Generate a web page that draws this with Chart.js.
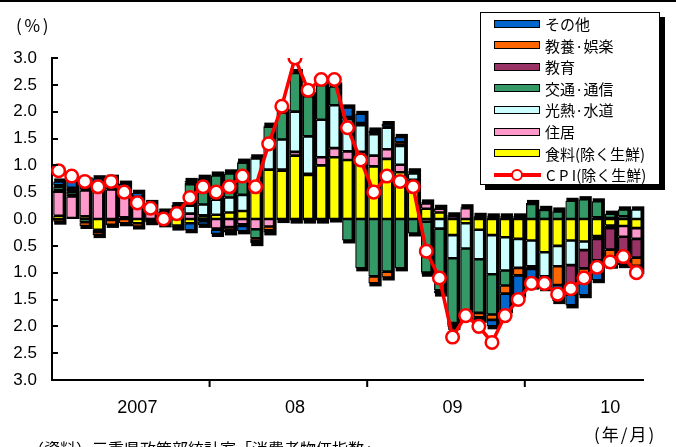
<!DOCTYPE html>
<html>
<head>
<meta charset="utf-8">
<script src="https://cdn.jsdelivr.net/npm/chart.js@4.4.1/dist/chart.umd.min.js"></script>
<style>
  html, body { margin: 0; padding: 0; background: #fff; }
  #wrap { position: relative; width: 676px; height: 447px; overflow: hidden; background: #fff; }
  #topline { position: absolute; left: 0; top: 0; width: 676px; height: 2px; background: #000; }
  canvas { position: absolute; left: 0; top: 0; }
  .lbl { position: absolute; color: #000; white-space: nowrap; font-family: "Noto Sans CJK JP", sans-serif; }
  #unit { left: 16px; top: 12px; font-size: 17px; letter-spacing: 2px; }
  #xunit { left: 594px; top: 421px; font-size: 17px; letter-spacing: 2px; }
  #source { left: 28px; top: 436px; font-size: 16px; }
  #legend { position: absolute; left: 480px; top: 12px; width: 178px; height: 171px;
            border: 1.5px solid #000; background: #fff; box-shadow: 5px 5px 0 #000; }
  .item { position: absolute; left: 13px; height: 21px; display: flex; align-items: center; white-space: nowrap;
          font-family: "Noto Sans CJK JP", sans-serif; font-size: 15px; color: #000; }
  .sw { width: 44px; height: 6px; border: 1.5px solid #000; margin-right: 5px; flex: none; }
  .ln { position: relative; width: 47px; height: 10px; margin-right: 5px; flex: none; }
  .ln i { position: absolute; left: 0; top: 3.5px; width: 47px; height: 3.5px; background: #f00; }
  .ln b { position: absolute; left: 17px; top: -1px; width: 8px; height: 8px; border: 2.5px solid #f00;
          border-radius: 50%; background: #fff; }
</style>
</head>
<body>
<div id="wrap">
  <canvas id="c" width="676" height="447"></canvas>
  <div id="topline"></div>
  <div class="lbl" id="unit">(％)</div>
  <div class="lbl" id="xunit">(年/月)</div>
  <div class="lbl" id="source">（資料）三重県政策部統計室「消費者物価指数」</div>
  <div id="legend"></div>
</div>
<script>
// Months, January 2007 to September 2010
const months = [
  '07/1','07/2','07/3','07/4','07/5','07/6','07/7','07/8','07/9','07/10','07/11','07/12',
  '08/1','08/2','08/3','08/4','08/5','08/6','08/7','08/8','08/9','08/10','08/11','08/12',
  '09/1','09/2','09/3','09/4','09/5','09/6','09/7','09/8','09/9','09/10','09/11','09/12',
  '10/1','10/2','10/3','10/4','10/5','10/6','10/7','10/8','10/9'
];
// Year captions shown under the July of each year
const yearLabels = { '07/7': '2007', '08/7': '08', '09/7': '09', '10/7': '10' };

// Contributions to the year-on-year change (percentage points)
const food = [0.06,0.02,0.05,-0.20,-0.02,0.03,-0.08,-0.02,-0.03,-0.12,-0.08,0.05,
  0.08,0.12,0.15,0.68,0.92,0.90,1.18,0.82,1.00,1.15,1.10,1.10,
  0.98,1.12,0.87,0.68,0.19,0.12,-0.30,-0.08,-0.20,-0.30,-0.34,-0.37,
  -0.40,-0.62,-0.50,-0.40,-0.42,-0.32,-0.12,-0.13,-0.17];
const housing = [0.45,0.40,0.48,0.52,0.55,0.45,0.30,0.15,0.02,0.05,0.10,0.02,
  -0.18,-0.15,-0.10,-0.19,-0.14,0.02,0.07,0.02,0.15,0.17,0.16,0.15,
  0.20,0.18,0.14,0.05,0.10,0.07,0.05,0.20,0.04,0.03,0.03,0.00,
  0.00,0.00,0.00,0.00,0.00,0.03,0.02,-0.20,-0.20];
const utilities = [0.03,0.03,0.02,0.03,0.03,0.02,0.02,0.02,0.03,0.04,0.15,0.20,
  0.28,0.28,0.30,0.45,0.55,0.56,0.75,0.70,0.70,0.80,0.60,0.50,
  0.40,0.40,0.35,0.12,-0.05,-0.18,-0.43,-0.47,-0.55,-0.73,-0.62,-0.54,
  -0.48,-0.45,-0.38,-0.46,-0.16,-0.05,-0.05,0.05,0.18];
const transport = [0.06,0.06,-0.06,-0.04,0.03,0.03,0.04,0.04,0.06,0.12,0.40,0.48,
  0.45,0.45,0.60,-0.17,0.25,0.50,0.72,0.75,0.65,0.35,-0.40,-0.92,
  -1.07,-0.98,-0.92,-0.27,-0.95,-1.15,-1.21,-1.21,-1.00,-0.75,-0.28,0.03,
  0.28,0.17,0.14,0.34,0.37,0.30,0.08,0.13,0.00];
const education = [0.03,0.05,0.05,0.06,0.04,0.05,0.05,0.04,0.03,0.03,0.03,0.02,
  0.02,0.02,0.02,0.02,0.02,0.02,0.02,0.02,0.02,0.02,0.02,0.02,
  0.02,0.02,0.02,0.02,0.02,0.02,0.02,0.02,0.02,0.02,0.02,0.02,
  0.02,0.02,0.02,-0.40,-0.34,-0.40,-0.40,-0.38,-0.35];
const recreation = [-0.05,0.02,-0.07,-0.06,-0.09,-0.08,-0.06,-0.04,-0.05,-0.04,0.03,-0.04,
  -0.02,-0.05,-0.03,-0.05,-0.07,-0.02,-0.03,-0.03,-0.03,-0.01,0.02,0.02,
  -0.13,-0.11,0.05,0.02,-0.02,-0.03,-0.05,-0.05,-0.08,-0.10,-0.15,-0.14,
  -0.05,-0.10,-0.35,-0.15,-0.20,-0.15,-0.15,-0.10,-0.15];
const other = [0.07,0.15,0.12,0.15,0.12,0.08,0.08,0.05,-0.02,0.02,-0.13,-0.07,
  -0.08,-0.05,-0.10,-0.04,-0.04,0.00,0.00,0.00,0.00,0.00,0.18,0.17,
  0.05,0.05,0.10,0.00,0.00,-0.03,-0.02,-0.02,-0.05,-0.12,-0.31,-0.36,
  -0.33,-0.12,-0.30,-0.20,-0.30,-0.22,-0.15,-0.05,-0.10];
// Core CPI (excluding fresh food), year-on-year %
const cpi = [0.9,0.8,0.7,0.6,0.7,0.5,0.3,0.2,0.0,0.1,0.4,0.6,
  0.5,0.6,0.8,0.6,1.4,2.1,3.0,2.4,2.6,2.6,1.7,1.1,
  0.5,0.8,0.7,0.6,-0.6,-1.1,-2.2,-1.8,-2.0,-2.3,-1.8,-1.5,
  -1.2,-1.2,-1.4,-1.3,-1.1,-0.9,-0.8,-0.7,-1.0];

const yTicks = [-3,-2.5,-2,-1.5,-1,-0.5,0,0.5,1,1.5,2,2.5,3];

const barSeries = [
  { label: '食料(除く生鮮)', data: food, color: '#FFFF00' },
  { label: '住居', data: housing, color: '#FF99CC' },
  { label: '光熱·水道', data: utilities, color: '#CCFFFF' },
  { label: '交通·通信', data: transport, color: '#339966' },
  { label: '教育', data: education, color: '#993366' },
  { label: '教養·娯楽', data: recreation, color: '#FF6600' },
  { label: 'その他', data: other, color: '#0066CC' }
];
const cpiLabel = 'C P I(除く生鮮)';

const datasets = barSeries.map(s => ({
  type: 'bar', label: s.label, data: s.data, backgroundColor: s.color,
  borderColor: '#000', borderWidth: 1.3, borderSkipped: false,
  barPercentage: 0.82, categoryPercentage: 1.0, stack: 'items', order: 1
}));
datasets.push({
  type: 'line', label: cpiLabel, data: cpi, stack: 'cpi', order: 0,
  borderColor: '#FF0000', borderWidth: 3.5, tension: 0,
  pointRadius: 6.3, pointBorderWidth: 2.5, pointBackgroundColor: '#FFFFFF',
  pointBorderColor: '#FF0000'
});

// Black drop shadow behind each stacked column
const barShadow = {
  id: 'barShadow',
  beforeDatasetsDraw(chart) {
    const ctx = chart.ctx;
    const metas = chart.getSortedVisibleDatasetMetas().filter(m => m.type === 'bar');
    const zero = chart.scales.y.getPixelForValue(0);
    ctx.save();
    ctx.fillStyle = '#000';
    for (let i = 0; i < chart.data.labels.length; i++) {
      let top = zero, bottom = zero, left = null, width = 0;
      metas.forEach(m => {
        const el = m.data[i];
        if (!el) return;
        const p = el.getProps(['x', 'y', 'base', 'width'], true);
        top = Math.min(top, p.y, p.base);
        bottom = Math.max(bottom, p.y, p.base);
        left = p.x - p.width / 2;
        width = p.width;
      });
      if (left === null) continue;
      if (top < zero - 0.5) ctx.fillRect(left + 1, top - 3, width + 1.5, zero - top + 3);
      if (bottom > zero + 0.5) ctx.fillRect(left + 1, zero, width + 1.5, bottom - zero + 3);
    }
    ctx.restore();
  }
};

// Inward tick marks on the value axis, year separators on the time axis
const axisMarks = {
  id: 'axisMarks',
  afterDraw(chart) {
    const ctx = chart.ctx, a = chart.chartArea;
    const xs = chart.scales.x, ys = chart.scales.y;
    ctx.save();
    ctx.strokeStyle = '#000';
    ctx.lineWidth = 2;
    ctx.beginPath();
    yTicks.forEach(v => {
      const y = Math.round(ys.getPixelForValue(v));
      ctx.moveTo(a.left, y); ctx.lineTo(a.left + 6, y);
    });
    months.forEach((m, i) => {
      if (i > 0 && m.endsWith('/1')) {
        const x = (xs.getPixelForValue(i - 1) + xs.getPixelForValue(i)) / 2;
        ctx.moveTo(x, a.bottom); ctx.lineTo(x, a.bottom + 7);
      }
    });
    ctx.stroke();
    ctx.restore();
  }
};

const chart = new Chart(document.getElementById('c'), {
  data: { labels: months, datasets },
  options: {
    responsive: false,
    animation: false,
    layout: { padding: { top: 58, right: 33, left: 0, bottom: 0 } },
    plugins: { legend: { display: false }, tooltip: { enabled: false } },
    scales: {
      x: {
        stacked: true,
        offset: true,
        grid: { display: false, drawTicks: false },
        border: { display: true, color: '#000', width: 2 },
        ticks: {
          autoSkip: false, maxRotation: 0, minRotation: 0, padding: 17, color: '#000',
          font: { family: '"Liberation Sans", Arial, sans-serif', size: 18 },
          callback: (v, i) => yearLabels[months[i]] || ''
        },
        afterFit(s) { s.height = 67; }
      },
      y: {
        stacked: true,
        min: -3, max: 3,
        afterBuildTicks(s) { s.ticks = yTicks.map(v => ({ value: v })); },
        grid: { display: false, drawTicks: false },
        border: { display: true, color: '#000', width: 2 },
        ticks: {
          padding: 15, color: '#000',
          font: { family: '"Liberation Sans", Arial, sans-serif', size: 17 },
          callback: v => Math.abs(v).toFixed(1)
        },
        afterFit(s) { s.width = 52; }
      }
    }
  },
  plugins: [barShadow, axisMarks]
});

// Legend built from the chart's own datasets: categories top to bottom, then the CPI line
(function buildLegend() {
  const box = document.getElementById('legend');
  const bars = chart.data.datasets.filter(d => d.type === 'bar').slice().reverse();
  const line = chart.data.datasets.find(d => d.type === 'line');
  const rows = bars.concat([line]);
  rows.forEach((d, k) => {
    const row = document.createElement('div');
    row.className = 'item';
    row.style.top = (k * 21.6) + 'px';
    if (d.type === 'bar') {
      const sw = document.createElement('span');
      sw.className = 'sw';
      sw.style.background = d.backgroundColor;
      row.appendChild(sw);
    } else {
      const ln = document.createElement('span');
      ln.className = 'ln';
      ln.innerHTML = '<i></i><b></b>';
      row.appendChild(ln);
    }
    const t = document.createElement('span');
    t.textContent = d.label;
    row.appendChild(t);
    box.appendChild(row);
  });
})();
</script>
</body>
</html>
